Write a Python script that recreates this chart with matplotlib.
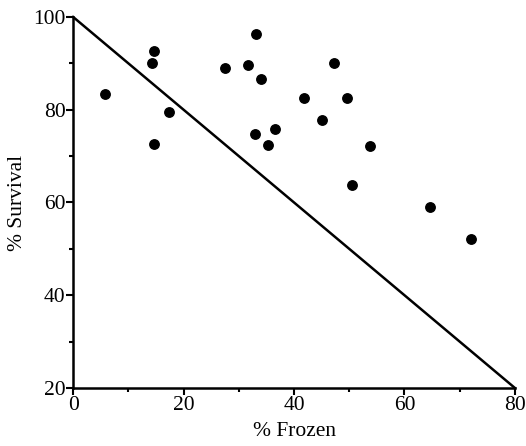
import numpy as np
import matplotlib
matplotlib.use("Agg")
import matplotlib.pyplot as plt
from matplotlib.ticker import MultipleLocator

plt.rcParams['font.family'] = ['Liberation Serif', 'DejaVu Serif']

# percent frozen vs percent survival
frozen = [5.8, 14.7, 14.3, 17.4, 14.7, 33.1, 27.5, 31.7, 34.0, 47.2,
          41.8, 49.6, 45.1, 32.9, 36.6, 35.3, 53.8, 50.5, 64.6, 72.0]
survival = [83.4, 92.7, 90.1, 79.5, 72.6, 96.3, 89.0, 89.6, 86.6, 90.1,
            82.5, 82.5, 77.7, 74.7, 75.8, 72.5, 72.1, 63.8, 59.0, 52.1]

# reference line: survival falls 1:1 with frozen fraction
line_x = [0, 80]
line_y = [100, 20]

fig = plt.figure(figsize=(5.26, 4.46), dpi=100)
ax = fig.add_axes([0.139, 0.130, 0.840, 0.832])

ax.plot(line_x, line_y, color='black', lw=1.8, clip_on=False)
ax.plot(frozen, survival, 'o', color='black', ms=6.8, clip_on=False)

ax.set_xlim(0, 80)
ax.set_ylim(20, 100)
ax.xaxis.set_major_locator(MultipleLocator(20))
ax.xaxis.set_minor_locator(MultipleLocator(10))
ax.yaxis.set_major_locator(MultipleLocator(20))
ax.yaxis.set_minor_locator(MultipleLocator(10))

for s in ['top', 'right']:
    ax.spines[s].set_visible(False)
for s in ['left', 'bottom']:
    ax.spines[s].set_linewidth(1.8)

ax.tick_params(which='major', direction='out', length=5, width=1.5,
               labelsize=15.5, pad=0.5)
ax.tick_params(which='minor', direction='out', length=3, width=1.5)

ax.set_xlabel('% Frozen', fontsize=15.5, labelpad=5)
ax.set_ylabel('% Survival', fontsize=15.5)
ax.yaxis.set_label_coords(-0.105, 0.5)

fig.savefig('out.png', dpi=100)
